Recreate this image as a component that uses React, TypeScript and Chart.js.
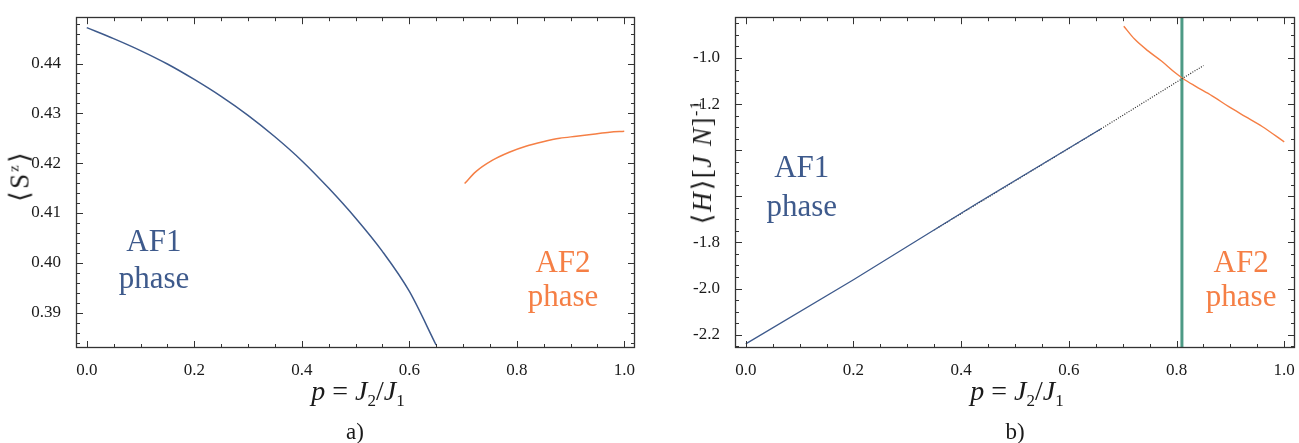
import React, { useEffect, useRef } from "react";
import { Chart, registerables } from "chart.js";
Chart.register(...registerables);

// ---------- Panel a) data ----------
const af1P = [0, 0.05, 0.1, 0.15, 0.2, 0.25, 0.3, 0.35, 0.4, 0.45, 0.5, 0.55, 0.6, 0.65];
const af1Sz = [0.4472, 0.445, 0.4426, 0.4399, 0.4368, 0.4334, 0.4296, 0.4253, 0.4205, 0.415, 0.409, 0.4023, 0.3943, 0.3835];
const af2P = [0.703, 0.724, 0.755, 0.786, 0.817, 0.849, 0.88, 0.911, 0.942, 0.973, 1.0];
const af2Sz = [0.4159, 0.4183, 0.4206, 0.4222, 0.4234, 0.4243, 0.425, 0.4254, 0.4258, 0.4262, 0.4264];
const aXLabels = [0, 0.2, 0.4, 0.6, 0.8, 1.0];
const aYLabels = [0.39, 0.4, 0.41, 0.42, 0.43, 0.44];

// ---------- Panel b) data ----------
const hAf1P = [0, 0.2, 0.43, 0.66];
const hAf1 = [-2.24, -1.962, -1.63, -1.307];
const hDotP = [0.35, 0.66, 0.81, 0.85];
const hDot = [-1.746, -1.307, -1.09, -1.033];
const hAf2P = [0.702, 0.722, 0.747, 0.772, 0.797, 0.8125, 0.834, 0.866, 0.897, 0.928, 0.959, 1.0];
const hAf2 = [-0.862, -0.918, -0.969, -1.013, -1.063, -1.09, -1.121, -1.164, -1.211, -1.254, -1.297, -1.364];
const transitionP = 0.81;
const bXLabels = [0, 0.2, 0.4, 0.6, 0.8, 1.0];
const bYLabels = [-2.2, -2.0, -1.8, -1.2, -1.0];
const bYMajor = [-2.2, -2.0, -1.8, -1.6, -1.4, -1.2, -1.0];

const BLUE = "#3e5a8c";
const ORANGE = "#f57f45";
const GREEN = "#4d9a85";
const SERIF = '"Liberation Serif", "Times New Roman", serif';

const pts = (xs: number[], ys: number[]) => xs.map((x, i) => ({ x, y: ys[i] }));
const range = (a: number, b: number, s: number) => {
  const out: number[] = [];
  const n = Math.round((b - a) / s);
  for (let i = 0; i <= n; i++) out.push(+(a + i * s).toFixed(6));
  return out;
};

const frameTicks = {
  id: "frameTicks",
  afterDraw(chart: any, _args: any, opts: any) {
    const { ctx, chartArea: a, scales } = chart;
    const xs = scales.x, ys = scales.y;
    ctx.save();
    ctx.strokeStyle = "#333";
    ctx.lineWidth = 1;
    const line = (x1: number, y1: number, x2: number, y2: number) => {
      ctx.beginPath(); ctx.moveTo(x1, y1); ctx.lineTo(x2, y2); ctx.stroke();
    };
    const drawX = (vals: number[], len: number) => vals.forEach((v) => {
      const px = Math.round(xs.getPixelForValue(v)) + 0.5;
      line(px, a.bottom, px, a.bottom - len);
      line(px, a.top, px, a.top + len);
    });
    const drawY = (vals: number[], len: number) => vals.forEach((v) => {
      const py = Math.round(ys.getPixelForValue(v)) + 0.5;
      line(a.left, py, a.left + len, py);
      line(a.right, py, a.right - len, py);
    });
    drawX(opts.xMinor, 4); drawX(opts.xMajor, 7);
    drawY(opts.yMinor, 4); drawY(opts.yMajor, 7);
    ctx.lineWidth = 1.3;
    ctx.strokeRect(Math.round(a.left) + 0.5, Math.round(a.top) + 0.5, Math.round(a.right - a.left) - 1, Math.round(a.bottom - a.top) - 1);
    ctx.font = `31px ${SERIF}`;
    ctx.textAlign = "center";
    ctx.textBaseline = "middle";
    (opts.labels || []).forEach((l: any) => {
      ctx.fillStyle = l.color;
      ctx.fillText(l.text, xs.getPixelForValue(l.x), ys.getPixelForValue(l.y));
    });
    ctx.restore();
  },
};

function makeConfig(p: any) {
  return {
    type: "scatter",
    data: { datasets: p.datasets },
    plugins: [frameTicks],
    options: {
      animation: false,
      responsive: false,
      events: [],
      layout: { padding: p.padding },
      plugins: {
        legend: { display: false },
        tooltip: { enabled: false },
        frameTicks: p.frame,
      },
      scales: {
        x: {
          type: "linear",
          min: -0.02,
          max: 1.02,
          grid: { display: false },
          border: { display: false },
          ticks: {
            font: { family: SERIF, size: 17 },
            color: "#1a1a1a",
            padding: 4,
            maxRotation: 0,
            autoSkip: false,
            callback: (v: number) => v.toFixed(1),
          },
          afterBuildTicks: (s: any) => { s.ticks = p.xLabels.map((v: number) => ({ value: v })); },
          afterFit: (s: any) => { s.height = 30; },
        },
        y: {
          type: "linear",
          min: p.yMin,
          max: p.yMax,
          grid: { display: false },
          border: { display: false },
          ticks: {
            font: { family: SERIF, size: 17 },
            color: "#1a1a1a",
            padding: 7,
            autoSkip: false,
            callback: (v: number) => v.toFixed(p.yDec),
          },
          afterBuildTicks: (s: any) => { s.ticks = p.yLabels.map((v: number) => ({ value: v })); },
          afterFit: (s: any) => { s.width = p.yWidth; },
        },
      },
    },
  };
}

const line = (data: any[], color: string, width: number, extra: any = {}) => ({
  data, showLine: true, borderColor: color, backgroundColor: color, borderWidth: width,
  pointRadius: 0, cubicInterpolationMode: "monotone", fill: false, ...extra,
});

function Panel({ cfg, style }: { cfg: any; style: any }) {
  const ref = useRef<HTMLCanvasElement>(null);
  useEffect(() => {
    const c = new Chart(ref.current as any, cfg);
    return () => c.destroy();
  }, []);
  return <canvas ref={ref} width={style.width} height={style.height} style={{ position: "absolute", ...style }} />;
}

const cfgA = makeConfig({
  datasets: [
    line(pts(af1P, af1Sz), BLUE, 1.5),
    line(pts(af2P, af2Sz), ORANGE, 1.5),
  ],
  padding: { left: 0, top: 10, right: 15, bottom: 65 },
  yMin: 0.3829, yMax: 0.4493, yDec: 2, yWidth: 76,
  xLabels: aXLabels, yLabels: aYLabels,
  frame: {
    xMajor: aXLabels, xMinor: range(0, 1, 0.05),
    yMajor: aYLabels, yMinor: range(0.384, 0.448, 0.002),
    labels: [
      { text: "AF1", x: 0.125, y: 0.4041, color: BLUE },
      { text: "phase", x: 0.125, y: 0.3966, color: BLUE },
      { text: "AF2", x: 0.886, y: 0.3998, color: ORANGE },
      { text: "phase", x: 0.886, y: 0.3929, color: ORANGE },
    ],
  },
});

const cfgB = makeConfig({
  datasets: [
    line(pts(hAf1P, hAf1), BLUE, 1.3, { cubicInterpolationMode: "default", tension: 0 }),
    line(pts(hDotP, hDot), "#2a2a2a", 1.2, { cubicInterpolationMode: "default", tension: 0, borderDash: [1, 1.5] }),
    line(pts(hAf2P, hAf2), ORANGE, 1.4),
    line([{ x: transitionP, y: -2.4 }, { x: transitionP, y: -0.7 }], GREEN, 3, { cubicInterpolationMode: "default", tension: 0 }),
  ],
  padding: { left: 0, top: 10, right: 4, bottom: 65 },
  yMin: -2.258, yMax: -0.823, yDec: 1, yWidth: 85,
  xLabels: bXLabels, yLabels: bYLabels,
  frame: {
    xMajor: bXLabels, xMinor: range(0, 1, 0.05),
    yMajor: bYMajor, yMinor: range(-2.25, -0.85, 0.05),
    labels: [
      { text: "AF1", x: 0.104, y: -1.481, color: BLUE },
      { text: "phase", x: 0.104, y: -1.651, color: BLUE },
      { text: "AF2", x: 0.92, y: -1.893, color: ORANGE },
      { text: "phase", x: 0.92, y: -2.04, color: ORANGE },
    ],
  },
});

const txt: any = { position: "absolute", fontFamily: SERIF, color: "#1a1a1a", whiteSpace: "nowrap", lineHeight: 1 };

export default function App() {
  useEffect(() => {
    document.body.style.margin = "0";
  }, []);
  return (
    <div style={{ position: "relative", width: 1299, height: 443, background: "#fff", overflow: "hidden" }}>
      <Panel cfg={cfgA} style={{ left: 0, top: 0, width: 650, height: 443 }} />
      <Panel cfg={cfgB} style={{ left: 650, top: 0, width: 649, height: 443 }} />
      <div style={{ ...txt, left: 20, top: 176, fontSize: 27, letterSpacing: 2, transform: "translate(-50%,-50%) rotate(-90deg)" }}>
        ⟨S<sup style={{ fontSize: 15 }}>z</sup>⟩
      </div>
      <div style={{ ...txt, left: 702, top: 162, fontSize: 27, letterSpacing: 1.5, transform: "translate(-50%,-50%) rotate(-90deg)" }}>
        ⟨<i>H</i>⟩[<i>J</i> <i>N</i>]<sup style={{ fontSize: 16 }}>-1</sup>
      </div>
      <div style={{ ...txt, left: 358, top: 393, fontSize: 28, transform: "translate(-50%,-50%)" }}>
        <i>p</i><span style={{ margin: "0 7px" }}>=</span><i>J</i><sub style={{ fontSize: 17 }}>2</sub>/<i>J</i><sub style={{ fontSize: 17 }}>1</sub>
      </div>
      <div style={{ ...txt, left: 1017, top: 393, fontSize: 28, transform: "translate(-50%,-50%)" }}>
        <i>p</i><span style={{ margin: "0 7px" }}>=</span><i>J</i><sub style={{ fontSize: 17 }}>2</sub>/<i>J</i><sub style={{ fontSize: 17 }}>1</sub>
      </div>
      <div style={{ ...txt, left: 355, top: 431, fontSize: 23, transform: "translate(-50%,-50%)" }}>a)</div>
      <div style={{ ...txt, left: 1015, top: 431, fontSize: 23, transform: "translate(-50%,-50%)" }}>b)</div>
    </div>
  );
}
